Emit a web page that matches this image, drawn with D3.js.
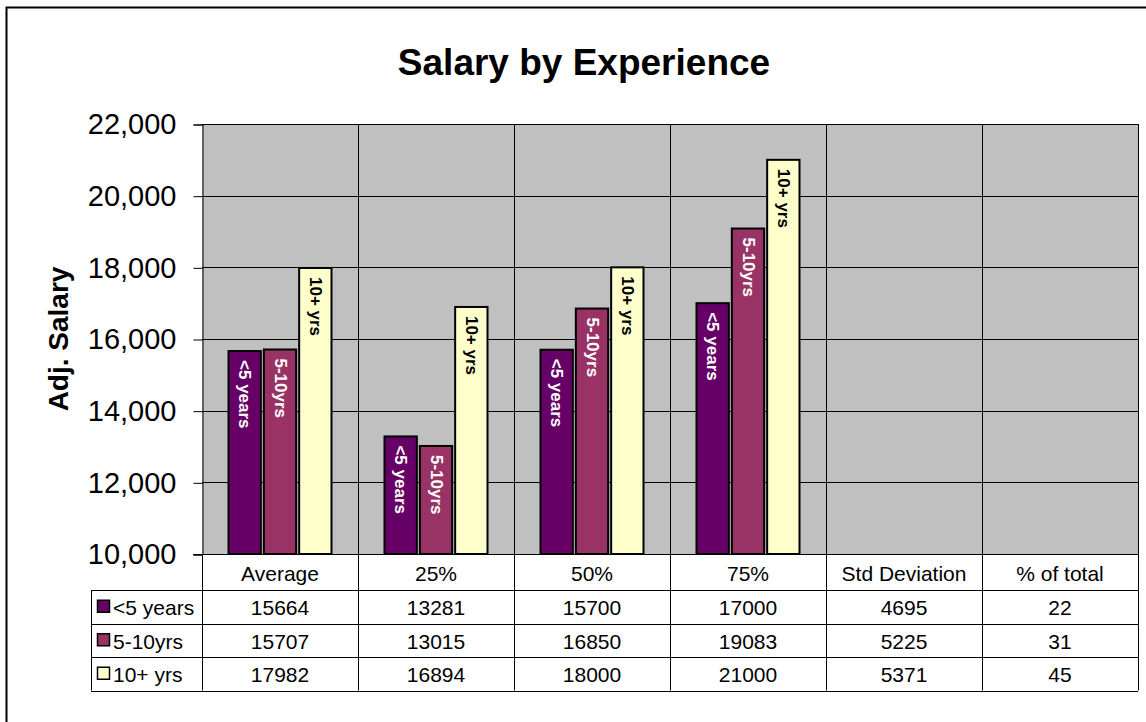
<!DOCTYPE html>
<html>
<head>
<meta charset="utf-8">
<script src="https://cdn.jsdelivr.net/npm/d3@7"></script>
<style>
  body { margin: 0; background: #fff; }
  svg { font-family: Arial, "Liberation Sans", sans-serif; }
</style>
</head>
<body>
<div id="chart"></div>
<script>
// Data
const categories = ['Average', '25%', '50%', '75%', 'Std Deviation', '% of total'];
const seriesNames = ['<5 years', '5-10yrs', '10+ yrs'];
const under5 = [15664, 13281, 15700, 17000, 4695, 22];
const fiveTo10 = [15707, 13015, 16850, 19083, 5225, 31];
const over10 = [17982, 16894, 18000, 21000, 5371, 45];
const yTicks = [10000, 12000, 14000, 16000, 18000, 20000, 22000];

const seriesValues = [under5, fiveTo10, over10];
const colors = ['#660066', '#993366', '#FFFFCC'];
const labelColors = ['#fff', '#fff', '#000'];

const width = 1146, height = 722;
const plot = { left: 202, right: 1138, top: 124, bottom: 554 };
const rowH = 33.5, headerH = 36;

const svg = d3.select('#chart').append('svg')
    .attr('width', width).attr('height', height);

// outer chart frame
svg.append('rect')
    .attr('x', 6.5).attr('y', 7.5)
    .attr('width', 1300).attr('height', 900)
    .attr('fill', '#fff').attr('stroke', '#000').attr('stroke-width', 2);

// Scales
const x = d3.scaleBand().domain(categories).range([plot.left, plot.right]);
const xInner = d3.scaleBand().domain(seriesNames).range([25, x.bandwidth() - 25]);
const y = d3.scaleLinear().domain([10000, 22000]).range([plot.bottom, plot.top]).clamp(true);

// plot background
svg.append('rect')
    .attr('x', plot.left).attr('y', plot.top)
    .attr('width', plot.right - plot.left).attr('height', plot.bottom - plot.top)
    .attr('fill', '#C0C0C0');

// horizontal gridlines
svg.append('g').selectAll('line').data(yTicks).join('line')
    .attr('x1', plot.left).attr('x2', plot.right)
    .attr('y1', d => Math.round(y(d)) + 0.5).attr('y2', d => Math.round(y(d)) + 0.5)
    .attr('stroke', '#000').attr('stroke-width', 1);

// vertical gridlines at category boundaries
const bounds = categories.map(c => x(c)).concat([plot.right]);
svg.append('g').selectAll('line').data(bounds.slice(1)).join('line')
    .attr('x1', d => Math.round(d) + 0.5).attr('x2', d => Math.round(d) + 0.5)
    .attr('y1', plot.top).attr('y2', plot.bottom)
    .attr('stroke', '#000').attr('stroke-width', 1);

// y axis
const yAxis = d3.axisLeft(y).tickValues(yTicks).tickSize(9).tickPadding(17)
    .tickFormat(d3.format(','));
const gy = svg.append('g')
    .attr('transform', `translate(${plot.left + 0.5},0.5)`)
    .call(yAxis);
gy.select('.domain').attr('stroke', '#000');
gy.selectAll('.tick line').attr('stroke', '#000');
gy.selectAll('.tick text')
    .attr('font-size', 29).attr('fill', '#000')
    .attr('font-family', 'Arial, "Liberation Sans", sans-serif');

// bars
const barData = [];
seriesValues.forEach((vals, si) => {
    vals.forEach((v, ci) => {
        barData.push({ cat: categories[ci], series: seriesNames[si], si: si, value: v });
    });
});
const shown = barData.filter(d => y(d.value) < plot.bottom);

const bars = svg.append('g');
bars.selectAll('rect').data(shown).join('rect')
    .attr('x', d => x(d.cat) + xInner(d.series) + 1.5)
    .attr('y', d => y(d.value))
    .attr('width', xInner.bandwidth() - 3)
    .attr('height', d => plot.bottom - y(d.value))
    .attr('fill', d => colors[d.si])
    .attr('stroke', '#000').attr('stroke-width', 2);

bars.selectAll('text').data(shown).join('text')
    .attr('transform', d => `translate(${x(d.cat) + xInner(d.series) + xInner.bandwidth() / 2},${y(d.value) + 9}) rotate(90)`)
    .attr('dominant-baseline', 'central')
    .attr('font-size', 17).attr('font-weight', 'bold')
    .attr('fill', d => labelColors[d.si])
    .text(d => d.series);

// Title
svg.append('text')
    .attr('x', 584).attr('y', 75)
    .attr('text-anchor', 'middle')
    .attr('font-size', 37).attr('font-weight', 'bold')
    .text('Salary by Experience');

// Y title
svg.append('text')
    .attr('transform', 'translate(68,339) rotate(-90)')
    .attr('text-anchor', 'middle')
    .attr('font-size', 28).attr('font-weight', 'bold')
    .text('Adj. Salary');

// Data table
const table = svg.append('g');
const tableLeft = 91;
const tTop = plot.bottom;
const rowsTop = tTop + headerH;
const tBottom = rowsTop + rowH * seriesNames.length;

// axis base line
table.append('line')
    .attr('x1', 193).attr('x2', plot.right)
    .attr('y1', tTop + 0.5).attr('y2', tTop + 0.5)
    .attr('stroke', '#000');

// horizontal row lines
const rowLines = d3.range(seriesNames.length + 1).map(i => rowsTop + i * rowH);
table.selectAll('.hline').data(rowLines).join('line')
    .attr('class', 'hline')
    .attr('x1', tableLeft).attr('x2', plot.right)
    .attr('y1', d => Math.round(d) + 0.5).attr('y2', d => Math.round(d) + 0.5)
    .attr('stroke', '#000');

// vertical lines
table.selectAll('.vline').data(bounds).join('line')
    .attr('class', 'vline')
    .attr('x1', d => Math.round(d) + 0.5).attr('x2', d => Math.round(d) + 0.5)
    .attr('y1', tTop).attr('y2', tBottom)
    .attr('stroke', '#000');
table.append('line')
    .attr('x1', tableLeft + 0.5).attr('x2', tableLeft + 0.5)
    .attr('y1', rowsTop).attr('y2', tBottom)
    .attr('stroke', '#000');

// header labels
table.selectAll('.head').data(categories).join('text')
    .attr('class', 'head')
    .attr('x', d => x(d) + x.bandwidth() / 2)
    .attr('y', tTop + headerH / 2 + 1)
    .attr('text-anchor', 'middle').attr('dominant-baseline', 'central')
    .attr('font-size', 21)
    .text(d => d);

// rows
seriesValues.forEach((vals, si) => {
    const cy = rowsTop + rowH * si + rowH / 2 + 1;
    const row = table.append('g');
    row.append('rect')
        .attr('x', 97.5).attr('y', cy - 7.5)
        .attr('width', 12).attr('height', 12)
        .attr('fill', colors[si]).attr('stroke', '#000').attr('stroke-width', 1.5);
    row.append('text')
        .attr('x', 113).attr('y', cy)
        .attr('dominant-baseline', 'central')
        .attr('font-size', 21)
        .text(seriesNames[si]);
    row.selectAll('.val').data(vals).join('text')
        .attr('class', 'val')
        .attr('x', (d, i) => x(categories[i]) + x.bandwidth() / 2)
        .attr('y', cy)
        .attr('text-anchor', 'middle').attr('dominant-baseline', 'central')
        .attr('font-size', 21)
        .text(d => d);
});
</script>
</body>
</html>
